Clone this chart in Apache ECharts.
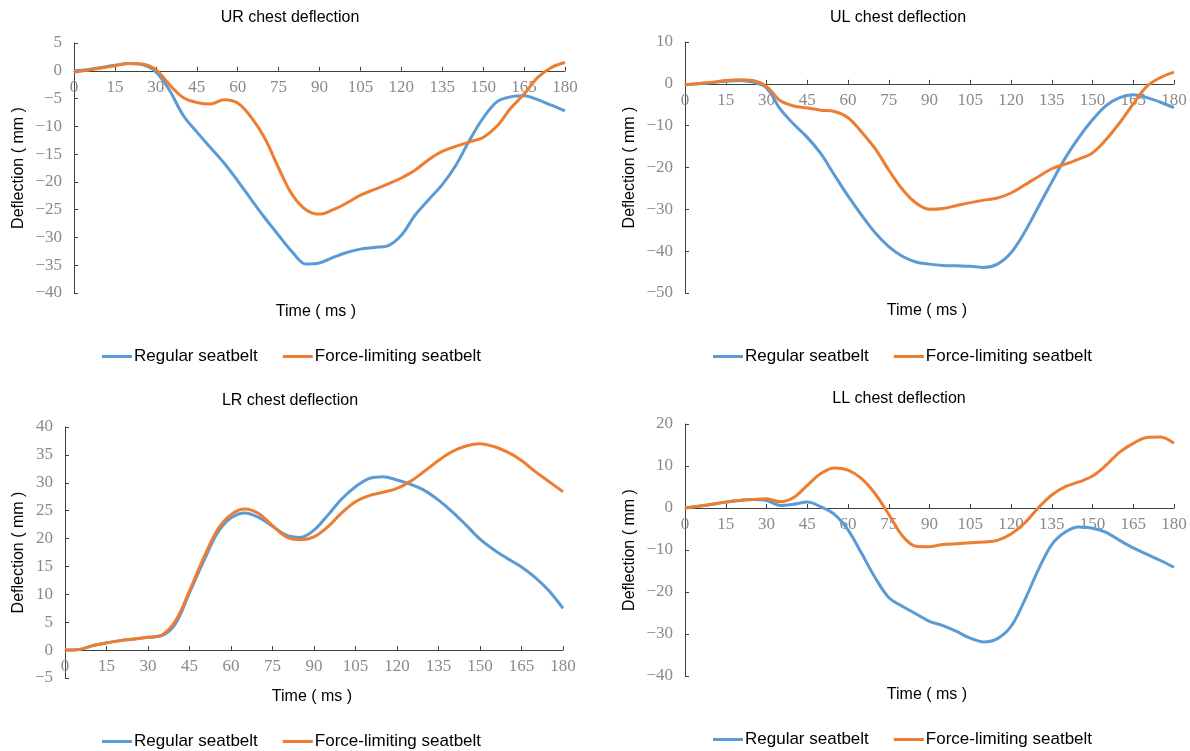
<!DOCTYPE html>
<html>
<head>
<meta charset="utf-8">
<script src="https://cdn.jsdelivr.net/npm/echarts@6/dist/echarts.min.js"></script>
<style>
  html, body { margin: 0; padding: 0; background: #fff; }
  #chart { width: 1190px; height: 751px; }
</style>
</head>
<body>
<div id="chart"></div>
<script>
// Sample times (ms)
const timeMs = [0, 5, 10, 15, 20, 25, 30, 35, 40, 45, 50, 55, 60, 65, 70, 75, 80, 85, 90,
  95, 100, 105, 110, 115, 120, 125, 130, 135, 140, 145, 150, 155, 160, 165, 170, 175, 180];

const seriesNames = ['Regular seatbelt', 'Force-limiting seatbelt'];
const panelTitles = ['UR chest deflection', 'UL chest deflection', 'LR chest deflection', 'LL chest deflection'];

// Upper right
const urRegular = [0, 0.2, 0.6, 1.0, 1.3, 1.1, -0.2, -3.5, -8.0, -11.0, -13.8, -16.6, -19.8, -23.2,
  -26.5, -29.6, -32.6, -34.8, -34.6, -33.6, -32.7, -32.1, -31.8, -31.5, -29.6, -26.0, -23.2, -20.5,
  -17.0, -12.5, -8.5, -5.6, -4.7, -4.5, -5.2, -6.2, -7.2];
const urForceLimiting = [-0.2, 0.1, 0.5, 0.9, 1.3, 1.2, 0.2, -2.5, -4.8, -5.7, -6.0, -5.2, -5.8, -8.4,
  -12.2, -17.5, -22.3, -25.0, -25.8, -25.0, -23.8, -22.4, -21.4, -20.4, -19.3, -17.9, -16.0, -14.5,
  -13.6, -12.8, -12.0, -10.0, -6.8, -4.2, -1.2, 0.6, 1.5];

// Upper left
const ulRegular = [-0.2, 0.0, 0.3, 0.6, 0.8, 0.4, -1.0, -6.0, -9.6, -12.8, -16.7, -21.8, -26.8, -31.4,
  -35.6, -38.9, -41.2, -42.6, -43.1, -43.4, -43.5, -43.6, -43.9, -43.1, -40.4, -35.5, -29.5, -23.5,
  -17.7, -12.8, -8.6, -5.2, -3.3, -2.6, -3.3, -4.4, -5.7];
const ulForceLimiting = [-0.2, 0.1, 0.4, 0.8, 1.0, 0.8, -0.6, -4.0, -5.3, -5.8, -6.3, -6.6, -8.1, -11.5,
  -15.5, -20.6, -25.2, -28.5, -30.0, -29.8, -29.1, -28.4, -27.8, -27.3, -26.1, -24.2, -22.2, -20.3,
  -19.2, -18.0, -16.5, -13.3, -9.3, -4.8, -0.6, 1.5, 2.8];

// Lower right
const lrRegular = [0, 0.1, 0.8, 1.3, 1.7, 2.0, 2.3, 2.6, 4.8, 10.3, 15.8, 20.9, 23.7, 24.6, 23.8, 22.2,
  20.6, 20.2, 21.5, 24.2, 27.1, 29.3, 30.8, 31.1, 30.5, 29.7, 28.6, 26.9, 24.8, 22.4, 19.9, 18.0,
  16.4, 14.9, 13.0, 10.6, 7.5];
const lrForceLimiting = [0, 0.1, 0.8, 1.3, 1.7, 2.0, 2.3, 2.7, 5.3, 10.6, 16.4, 21.5, 24.3, 25.3, 24.5,
  22.3, 20.3, 19.8, 20.3, 22.1, 24.6, 26.6, 27.7, 28.3, 29.0, 30.3, 32.1, 34.0, 35.6, 36.6, 37.0,
  36.5, 35.5, 34.0, 32.0, 30.2, 28.4];

// Lower left
const llRegular = [0, 0.4, 0.9, 1.4, 1.8, 2.0, 1.8, 0.6, 0.9, 1.4, 0.3, -1.5, -5.2, -10.8, -16.6, -21.3,
  -23.4, -25.2, -27.0, -28.0, -29.4, -31.0, -31.9, -31.1, -28.2, -22.0, -14.8, -8.7, -5.7, -4.5,
  -4.8, -5.8, -7.7, -9.5, -11.0, -12.5, -14.1];
const llForceLimiting = [0, 0.4, 0.9, 1.4, 1.8, 2.0, 2.2, 1.5, 2.5, 5.4, 8.2, 9.5, 9.0, 7.0, 3.4, -1.5,
  -6.6, -9.1, -9.2, -8.7, -8.5, -8.3, -8.1, -7.7, -6.2, -3.6, 0.0, 3.1, 5.1, 6.2, 7.6, 10.2, 13.3,
  15.4, 16.8, 16.9, 15.4];

// Y axis ranges per panel: [min, max, interval]
const yRanges = [[-40, 5, 5], [-50, 10, 10], [-5, 40, 5], [-40, 20, 10]];

const panelData = [
  [urRegular, urForceLimiting],
  [ulRegular, ulForceLimiting],
  [lrRegular, lrForceLimiting],
  [llRegular, llForceLimiting]
];

const COLORS = ['#5B9BD5', '#ED7D31'];
const SANS = '"Liberation Sans", Arial, sans-serif';
const SERIF = '"Liberation Serif", "Times New Roman", serif';

// Panel layout (pixel boxes)
const grids = [
  { left: 74, top: 43, width: 491, height: 250 },
  { left: 685, top: 42, width: 489, height: 251 },
  { left: 65, top: 427, width: 498, height: 251 },
  { left: 685, top: 424, width: 489, height: 252 }
];
const titlePos = [[290, 10], [898, 10], [290, 393], [899, 391]];
const timeLabelPos = [[316, 312], [927, 311], [312, 697], [927, 695]];
const legendPos = [[102, 348], [713, 348], [102, 733], [713, 731]];
const yNameGap = [47, 47, 38, 47];

const minus = v => String(v).replace('-', '\u2212');

const option = {
  animation: false,
  backgroundColor: '#fff',
  title: panelTitles.map((t, i) => ({
    text: t,
    left: titlePos[i][0],
    top: titlePos[i][1],
    textAlign: 'center',
    padding: 0,
    textStyle: { fontFamily: SANS, fontSize: 16, fontWeight: 'normal', color: '#000' }
  })),
  legend: legendPos.map((p, i) => ({
    left: p[0],
    top: p[1],
    itemWidth: 30,
    itemHeight: 3,
    itemGap: 25,
    icon: 'rect',
    padding: 0,
    textStyle: { fontFamily: SANS, fontSize: 17, color: '#000', padding: [0, 0, 0, -3] },
    data: seriesNames.map((n, k) => ({ name: n + '\u200b'.repeat(i), itemStyle: { color: COLORS[k] } }))
  })),
  grid: grids.map(g => Object.assign({ containLabel: false }, g)),
  // The time axis sits on the zero line of each panel: shift it up from the grid bottom
  xAxis: grids.map((g, i) => ({
    type: 'value',
    gridIndex: i,
    min: 0,
    max: 180,
    interval: 15,
    position: 'bottom',
    offset: -(0 - yRanges[i][0]) / (yRanges[i][1] - yRanges[i][0]) * g.height,
    axisLine: { onZero: false, lineStyle: { color: '#404040', width: 1 } },
    axisTick: { show: true, inside: true, length: 4, lineStyle: { color: '#404040' } },
    axisLabel: { margin: 8, fontFamily: SERIF, fontSize: 17, color: '#8a8a8a' },
    splitLine: { show: false }
  })),
  yAxis: yRanges.map((r, i) => ({
    type: 'value',
    gridIndex: i,
    min: r[0],
    max: r[1],
    interval: r[2],
    name: 'Deflection ( mm )',
    nameLocation: 'middle',
    nameGap: yNameGap[i],
    nameTextStyle: { fontFamily: SANS, fontSize: 16, color: '#000' },
    axisLine: { show: true, onZero: false, lineStyle: { color: '#404040', width: 1 } },
    axisTick: { show: true, inside: true, length: 4, lineStyle: { color: '#404040' } },
    axisLabel: { margin: 12, fontFamily: SERIF, fontSize: 17, color: '#8a8a8a', formatter: minus },
    splitLine: { show: false }
  })),
  graphic: timeLabelPos.map(p => ({
    type: 'text',
    x: p[0],
    y: p[1],
    style: { text: 'Time ( ms )', font: '16px ' + SANS, fill: '#000', align: 'center', verticalAlign: 'middle' }
  })),
  series: []
};

panelData.forEach((pair, i) => {
  pair.forEach((vals, k) => {
    option.series.push({
      type: 'line',
      name: seriesNames[k] + '\u200b'.repeat(i),
      xAxisIndex: i,
      yAxisIndex: i,
      data: timeMs.map((t, j) => [t, vals[j]]),
      smooth: 0.35,
      symbol: 'none',
      lineStyle: { width: 3, color: COLORS[k] },
      itemStyle: { color: COLORS[k] },
      z: 2 + k
    });
  });
});

const chart = echarts.init(document.getElementById('chart'), null, { renderer: 'canvas' });
chart.setOption(option);
</script>
</body>
</html>
